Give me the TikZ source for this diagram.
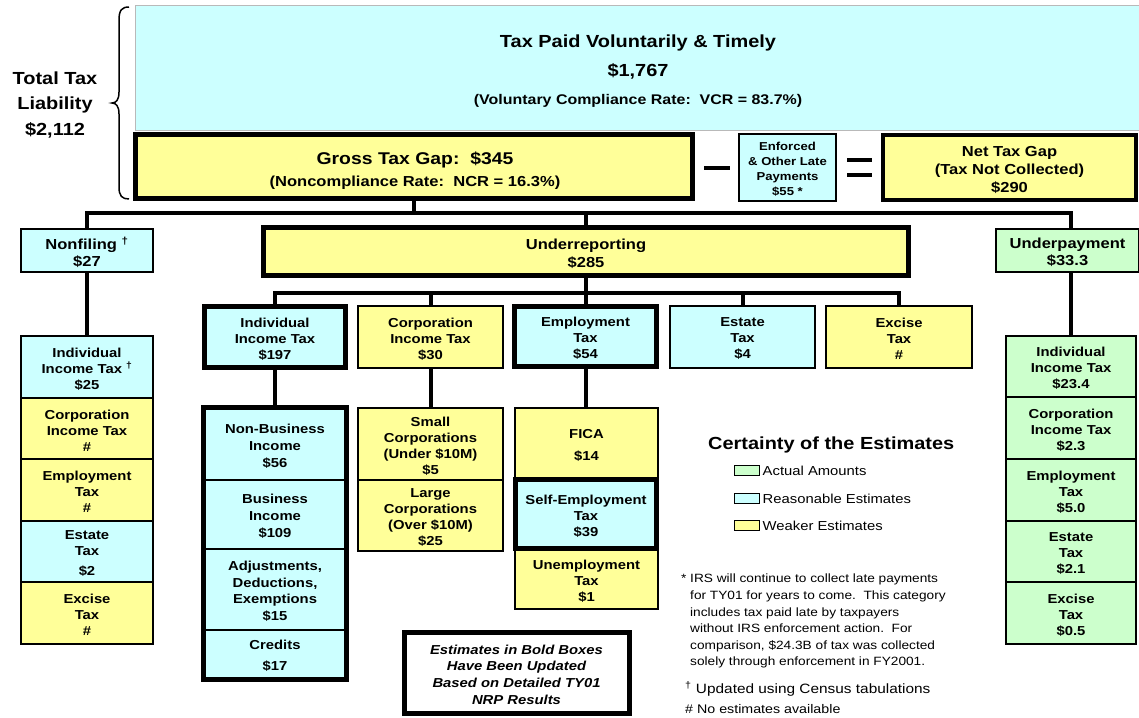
\documentclass[tikz,border=0pt]{standalone}
\usepackage{fontspec}
\setmainfont{Liberation Sans}[FakeStretch=1.14]
\definecolor{cyanc}{HTML}{CCFFFF}
\definecolor{yelc}{HTML}{FFFF99}
\definecolor{grnc}{HTML}{CCFFCC}
\newcommand\fsz[2]{\fontsize{#1}{#2}\selectfont}
\tikzset{
 box/.style={draw=black,line width=1.5pt,inner sep=0pt,align=center,font=\bfseries\fsz{13}{16}},
 heavy/.style={line width=5pt},
 conn/.style={draw=black,line width=4pt},
 cyb/.style={fill=cyanc}, ylb/.style={fill=yelc}, grb/.style={fill=grnc},
 txt/.style={inner sep=0pt,align=center},
 swatch/.style={draw=black,line width=1pt,inner sep=0pt,minimum width=25,minimum height=10},
}
\newcommand\bx[7]{\node[box,#6,minimum width={(#4)-(#2)},minimum height={(#5)-(#3)}] (#1) at ({((#2)+(#4))/2},{((#3)+(#5))/2}) {};
\node[box,#6,draw=none,fill=none,minimum width=0pt,minimum height=0pt,yshift=-2pt] (#1t) at (#1) {#7};}
\begin{document}
\begin{tikzpicture}[x=1pt,y=-1pt]
\useasboundingbox (0,0) rectangle (1139,717);
\fill[white] (0,0) rectangle (1139,717);
% top
\bx{paid}{135}{6}{1139}{130}{cyb,draw=gray!55,line width=1pt}{}
\node[txt,font=\bfseries\fsz{17.5}{20}] (t1) at (638,43) {Tax Paid Voluntarily \& Timely};
\node[txt,font=\bfseries\fsz{17.5}{20}] (t2) at (638,71) {\$1,767};
\node[txt,font=\bfseries\fsz{14}{16}] (t3) at (638,100.5) {(Voluntary Compliance Rate:\ \ VCR = 83.7\%)};
% total
\node[txt,font=\bfseries\fsz{17.5}{25.5}] (total) at (55,105) {Total Tax\\Liability\\\$2,112};
\draw[line width=1.5pt] (129,7) .. controls (122,7) and (119,10) .. (119,20) -- (119,92) .. controls (119,100) and (116,103) .. (112,103) .. controls (116,103) and (119,106) .. (119,114) -- (119,187) .. controls (119,196) and (122,199) .. (129,199);
% gross gap row
\bx{gross}{135.5}{134.5}{692.5}{198.5}{ylb,heavy}{}
\node[txt,font=\bfseries\fsz{17}{20}] (g1) at (415,160) {Gross Tax Gap:\ \ \$345};
\node[txt,font=\bfseries\fsz{14.5}{17}] (g2) at (415,183) {(Noncompliance Rate:\ \ NCR = 16.3\%)};
\draw[line width=4pt] (704,168) -- (730,168);
\bx{enf}{739}{134}{836}{201}{cyb,font=\bfseries\fsz{11.5}{15}}{Enforced\\\& Other Late\\Payments\\\$55 *}
\draw[line width=4pt] (847,160) -- (872,160);
\draw[line width=4pt] (847,175) -- (872,175);
\bx{net}{883}{135}{1136}{200}{ylb,line width=4pt,font=\bfseries\fsz{14.5}{18}}{Net Tax Gap\\(Tax Not Collected)\\\$290}
% level 1
\bx{nonf}{21}{229}{153}{272}{cyb,font=\bfseries\fsz{14.5}{17}}{Nonfiling \textsuperscript{†}\\\$27}
\bx{under}{263.5}{227.5}{908.5}{275.5}{ylb,heavy,font=\bfseries\fsz{14.5}{18}}{Underreporting\\\$285}
\bx{upay}{996}{229}{1139}{272}{grb,font=\bfseries\fsz{14.5}{17}}{Underpayment\\\$33.3}
% level 2
\bx{indinc}{204.5}{306.5}{345.5}{367.5}{cyb,heavy}{Individual\\Income Tax\\\$197}
\bx{corp}{358}{306}{503}{368}{ylb}{Corporation\\Income Tax\\\$30}
\bx{emp}{514.5}{306.5}{656.5}{366.5}{cyb,heavy}{Employment\\Tax\\\$54}
\bx{estate}{670}{306}{815}{368}{cyb}{Estate\\Tax\\\$4}
\bx{excise}{826}{306}{972}{368}{ylb}{Excise\\Tax\\\#}
% nonfiling stack
\bx{nfind}{21}{336}{153}{398}{cyb}{Individual\\Income Tax \textsuperscript{†}\\\$25}
\bx{nfcorp}{21}{398}{153}{459}{ylb}{Corporation\\Income Tax\\\#}
\bx{nfemp}{21}{459}{153}{521}{ylb}{Employment\\Tax\\\#}
\bx{nfest}{21}{521}{153}{582}{cyb}{Estate\\Tax\\[4pt]\$2}
\bx{nfexc}{21}{582}{153}{644}{ylb}{Excise\\Tax\\\#}
% underpayment stack
\bx{upind}{1006}{336}{1136}{397}{grb}{Individual\\Income Tax\\\$23.4}
\bx{upcorp}{1006}{397}{1136}{459}{grb}{Corporation\\Income Tax\\\$2.3}
\bx{upemp}{1006}{459}{1136}{521}{grb}{Employment\\Tax\\\$5.0}
\bx{upest}{1006}{521}{1136}{582}{grb}{Estate\\Tax\\\$2.1}
\bx{upexc}{1006}{582}{1136}{644}{grb}{Excise\\Tax\\\$0.5}
% individual stack
\bx{nonbus}{204.5}{408.5}{345.5}{480}{cyb,font=\bfseries\fsz{13}{17}}{Non-Business\\Income\\\$56}
\bx{bus}{204.5}{480}{345.5}{549}{cyb,font=\bfseries\fsz{13}{17}}{Business\\Income\\\$109}
\bx{adj}{204.5}{549}{345.5}{630}{cyb,font=\bfseries\fsz{13}{16.5}}{Adjustments,\\Deductions,\\Exemptions\\\$15}
\bx{credits}{204.5}{630}{345.5}{678.5}{cyb,font=\bfseries\fsz{13}{16}}{Credits\\[5pt]\$17}
\draw[line width=5pt] (nonbus.north west) rectangle (credits.south east);
% corporation stack
\bx{small}{358}{408}{503}{480}{ylb}{Small\\Corporations\\(Under \$10M)\\\$5}
\bx{large}{358}{480}{503}{551}{ylb}{Large\\Corporations\\(Over \$10M)\\\$25}
% employment stack
\bx{fica}{515}{408}{658}{478}{ylb}{FICA\\[6pt]\$14}
\bx{unemp}{515}{550}{658}{609}{ylb}{Unemployment\\Tax\\\$1}
\bx{selfemp}{515.5}{479.5}{656.5}{548.5}{cyb,heavy}{Self-Employment\\Tax\\\$39}
% connectors
\coordinate (bar1) at (0,213);
\coordinate (bar2) at (0,293);
\coordinate (upx) at (1071,0);
\draw[conn] (gross.south) -- (gross.south |- bar1);
\draw[conn] (nonf.north) |- (bar1 -| upx) -- (upx |- upay.north);
\draw[conn] (under.north) -- (under.north |- bar1);
\draw[conn] (under.south) -- (under.south |- bar2);
\draw[conn] (indinc.north) |- (bar2 -| excise.north) -- (excise.north);
\draw[conn] (corp.north) -- (corp.north |- bar2);
\draw[conn] (emp.north) -- (emp.north |- bar2);
\draw[conn] (estate.north) -- (estate.north |- bar2);
\draw[conn] (nonf.south) -- (nfind.north);
\draw[conn] (upx |- upay.south) -- (upind.north);
\draw[conn] (indinc.south) -- (nonbus.north);
\draw[conn] (corp.south) -- (small.north);
\draw[conn] (emp.south) -- (emp.south |- fica.north);
% legend
\node[anchor=west,inner sep=0pt,font=\bfseries\fsz{17.5}{20}] (legt) at (708,445) {Certainty of the Estimates};
\node[swatch,fill=grnc] (sw1) at (746.5,470) {};
\node[swatch,fill=cyanc] (sw2) at (746.5,498) {};
\node[swatch,fill=yelc] (sw3) at (746.5,525) {};
\node[anchor=west,inner sep=0pt,font=\fsz{13}{15}] (l1) at ([xshift=3pt,yshift=-1pt]sw1.east) {Actual Amounts};
\node[anchor=west,inner sep=0pt,font=\fsz{13}{15}] (l2) at ([xshift=3pt,yshift=-1pt]sw2.east) {Reasonable Estimates};
\node[anchor=west,inner sep=0pt,font=\fsz{13}{15}] (l3) at ([xshift=3pt,yshift=-1pt]sw3.east) {Weaker Estimates};
% notes
\node[anchor=north west,align=left,inner sep=0pt,font=\fsz{12}{16.6}] (notes) at (690,574) {\llap{* }IRS will continue to collect late payments\\for TY01 for years to come.\ \ This category\\includes tax paid late by taxpayers\\without IRS enforcement action.\ \ For\\comparison, \$24.3B of tax was collected\\solely through enforcement in FY2001.};
\node[anchor=west,inner sep=0pt,font=\fsz{13.5}{16}] (dag) at (685,689) {\textsuperscript{†} Updated using Census tabulations};
\node[anchor=west,inner sep=0pt,font=\fsz{12.5}{15}] (hash) at (685,709.5) {\# No estimates available};
% bold note
\bx{note}{404}{632}{629}{713}{heavy,fill=white,font=\bfseries\itshape\fsz{13}{16.7}}{Estimates in Bold Boxes\\Have Been Updated\\Based on Detailed TY01\\NRP Results}
\end{tikzpicture}
\end{document}
